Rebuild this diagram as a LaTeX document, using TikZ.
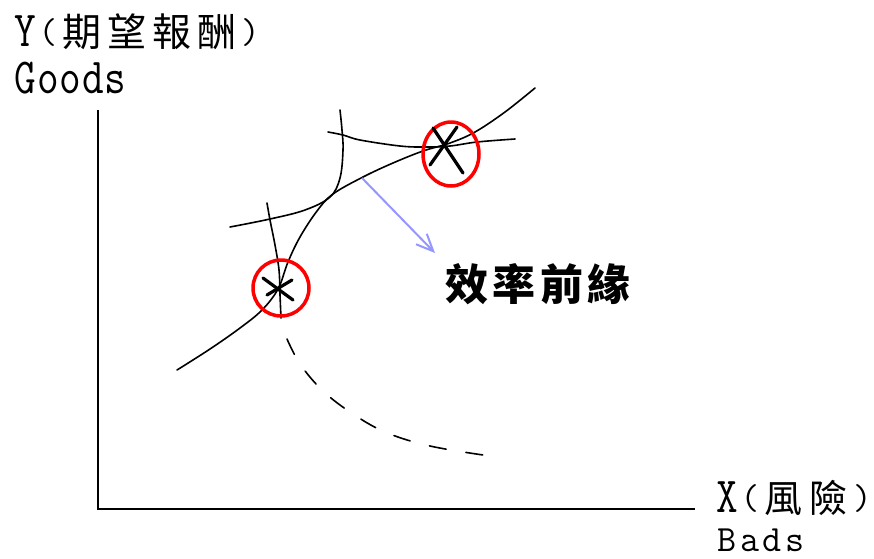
\documentclass[tikz,border=0pt]{standalone}
\usepackage{fontspec}
\usepackage{graphicx}
\usetikzlibrary{arrows.meta}
\newfontfamily\cjkfont{Noto Sans CJK TC}
\newcommand{\latsize}{\ttfamily\fontsize{42pt}{44pt}\selectfont}
\newcommand{\hcell}[1]{\makebox[22.5pt][c]{\scalebox{1}[1.2]{#1}}}
\newcommand{\scell}[1]{\makebox[22.5pt][c]{#1}}
\newcommand{\pcell}[1]{\makebox[22.5pt][c]{\raisebox{3pt}{\ttfamily\fontsize{36pt}{38pt}\selectfont #1}}}
\newcommand{\fcell}[1]{\makebox[45pt][c]{#1}}
\newcommand{\bcell}[1]{\makebox[47.5pt][c]{#1}}
\definecolor{arrowblue}{RGB}{150,150,255}
\tikzset{
  curve/.style={line width=1.6pt, black, line cap=round, line join=round},
  axisline/.style={line width=2.2pt, black},
  ring/.style={line width=3.5pt, red},
  xmark/.style={line width=3.2pt, black, line cap=round},
  lbl/.style={inner sep=0pt, anchor=base west},
}
\begin{document}
\begin{tikzpicture}[x=1pt, y=-1pt]
\useasboundingbox (0,0) rectangle (874,558);
% axes
\coordinate (top) at (98,110);
\coordinate (origin) at (98,509);
\coordinate (right) at (695,509);
\draw[axisline] (top) -- (origin) -- (right);
% efficient frontier
\draw[curve] plot[smooth, tension=0.6] coordinates {(177,370) (210,349) (240,328) (262,310) (278,289) (288,262) (300,237) (317,211) (333,194) (363,177) (393,163) (423,151) (450,143) (475,132) (505,112) (535,88)};
% curve B
\draw[curve] plot[smooth, tension=0.6] coordinates {(340,110) (342,130) (343,150) (340,178) (330,197) (305,210) (270,219) (230,227)};
% curve C
\draw[curve] plot[smooth, tension=0.6] coordinates {(328,132) (343,135) (360,140) (400,146) (425,147) (450,146) (477,142) (515,139)};
% lower vertical
\draw[curve] plot[smooth, tension=0.6] coordinates {(267,203) (270,220) (275,245) (279,270) (280,295) (281,318)};
% dashed curve
\draw[curve, dash pattern=on 17pt off 20pt] plot[smooth, tension=0.6] coordinates {(287,339) (300,364) (322,390) (350,412) (385,432) (430,446) (490,456)};
% red circles
\draw[ring] (281,288) ellipse [x radius=28pt, y radius=28pt];
\draw[ring] (451,154) ellipse [x radius=28pt, y radius=32pt];
% X marks
\draw[xmark] (263,278) -- (293,300);
\draw[xmark] (267,295) -- (292,280);
\draw[xmark] (433,128) -- (463,173);
\draw[xmark] (430,165) -- (457,127);
% blue arrow
\coordinate (arrowstart) at (362,178);
\coordinate (arrowend) at (435,253);
\draw[arrowblue, line width=2pt, -{Straight Barb[length=17pt, width=15pt, line width=2pt]}] (arrowstart) -- (arrowend);
% labels
\node[lbl] (ylab) at (14,46) {\latsize\hcell{Y}\pcell{(}\cjkfont\fontsize{39pt}{42pt}\selectfont\fcell{期}\fcell{望}\fcell{報}\fcell{酬}\pcell{)}};
\node[lbl] (goods) at (14,93) {\latsize\hcell{G}\hcell{o}\hcell{o}\hcell{d}\hcell{s}};
\node[lbl] (xlab) at (716,512) {\latsize\hcell{X}\pcell{(}\cjkfont\fontsize{38pt}{40pt}\selectfont\fcell{風}\fcell{險}\pcell{)}};
\node[lbl] (bads) at (716,551) {\ttfamily\fontsize{37pt}{39pt}\selectfont\scell{B}\scell{a}\scell{d}\scell{s}};
\node[inner sep=0pt, anchor=base] (frontier) at (538,300) {\cjkfont\bfseries\fontsize{43pt}{46pt}\selectfont\bcell{效}\bcell{率}\bcell{前}\bcell{緣}};
\end{tikzpicture}
\end{document}
